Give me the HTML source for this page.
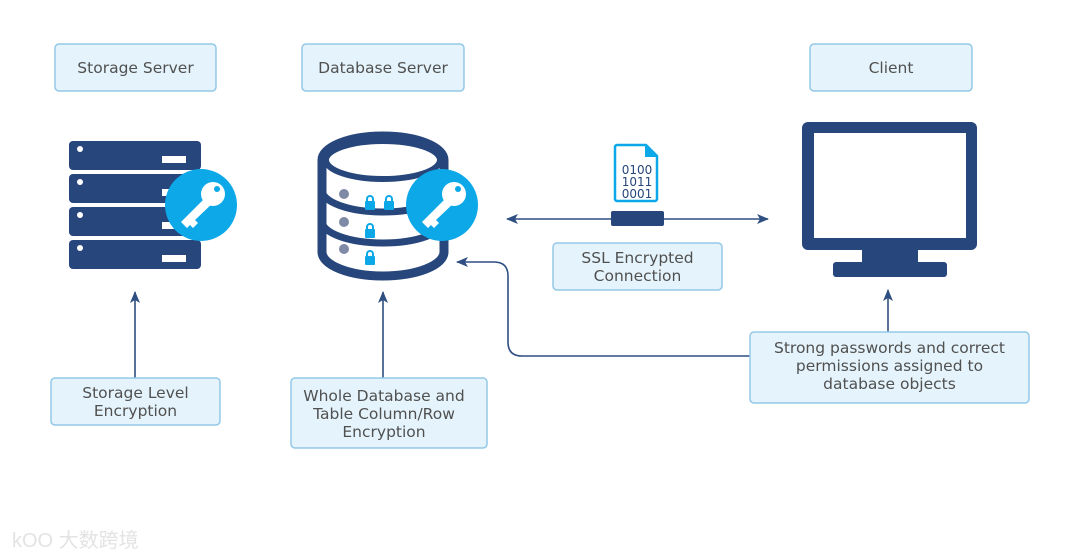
<!DOCTYPE html>
<html><head><meta charset="utf-8"><style>
html,body{margin:0;padding:0;background:#fff;}
svg{display:block;}
text{font-family:"DejaVu Sans","Liberation Sans",sans-serif;font-size:15.5px;fill:#505050;}
.box{fill:#e5f4fc;stroke:#93c8e6;stroke-width:1.5;}
.ln{stroke:#2f4f82;stroke-width:1.6;fill:none;}
.nv{fill:#27467b;}
</style></head><body>
<svg width="1080" height="558" viewBox="0 0 1080 558">
<defs><marker id="a" markerWidth="12" markerHeight="10" refX="11" refY="5" orient="auto" markerUnits="userSpaceOnUse"><path d="M0,0 L12,5 L0,10 L3,5 Z" fill="#2f4f82"/></marker></defs>
<rect class="box" x="55" y="44" width="161" height="47" rx="4"/><text x="135.5" y="73" text-anchor="middle">Storage Server</text>
<rect class="box" x="302" y="44" width="162" height="47" rx="4"/><text x="383" y="73" text-anchor="middle">Database Server</text>
<rect class="box" x="810" y="44" width="162" height="47" rx="4"/><text x="891" y="73" text-anchor="middle">Client</text>
<g class="nv">
<rect x="69" y="141" width="132" height="29" rx="4"/><rect x="69" y="174" width="132" height="29" rx="4"/>
<rect x="69" y="207" width="132" height="29" rx="4"/><rect x="69" y="240" width="132" height="29" rx="4"/>
</g>
<g fill="#fff"><circle cx="80" cy="149" r="3"/><circle cx="80" cy="182" r="3"/><circle cx="80" cy="215" r="3"/><circle cx="80" cy="248" r="3"/>
<rect x="162" y="156" width="24" height="7"/><rect x="162" y="189" width="24" height="7"/><rect x="162" y="222" width="24" height="7"/><rect x="162" y="255" width="24" height="7"/></g>
<circle cx="201" cy="205" r="36" fill="#0da8e8"/>
<g fill="#fff"><circle cx="213" cy="194" r="12"/><path d="M206,197 L181,222 L187,228 L190,225 L193,228 L198,223 L195,220 L215,201Z"/></g>
<circle cx="217" cy="189" r="3" fill="#0da8e8"/>
<path d="M322,160 A61,24 0 0 1 444,160 L444,252 A61,24 0 0 1 322,252 Z" fill="#fff" stroke="#27467b" stroke-width="9"/>
<ellipse cx="383" cy="160" rx="57" ry="19" fill="#fff" stroke="#27467b" stroke-width="6"/>
<path d="M322,190 A61,22 0 0 0 444,190 M322,221 A61,22 0 0 0 444,221" stroke="#27467b" stroke-width="7" fill="none"/>
<g fill="#7f8aa6"><circle cx="344" cy="194" r="5"/><circle cx="344" cy="222" r="5"/><circle cx="344" cy="249" r="5"/></g>
<g fill="#0da8e8"><rect x="365" y="201" width="10" height="9" rx="1"/><rect x="384" y="201" width="10" height="9" rx="1"/><rect x="365" y="229" width="10" height="9" rx="1"/><rect x="365" y="256" width="10" height="9" rx="1"/></g>
<g fill="none" stroke="#0da8e8" stroke-width="2"><path d="M367,202 v-3 a3,3 0 0 1 6,0 v3"/><path d="M386,202 v-3 a3,3 0 0 1 6,0 v3"/><path d="M367,230 v-3 a3,3 0 0 1 6,0 v3"/><path d="M367,257 v-3 a3,3 0 0 1 6,0 v3"/></g>
<circle cx="442" cy="205" r="36" fill="#0da8e8"/>
<g fill="#fff"><circle cx="454" cy="194" r="12"/><path d="M447,197 L422,222 L428,228 L431,225 L434,228 L439,223 L436,220 L456,201Z"/></g>
<circle cx="458" cy="189" r="3" fill="#0da8e8"/>
<path d="M617,145 H646 L657,156 V199 A2,2 0 0 1 655,201 H617 A2,2 0 0 1 615,199 V147 A2,2 0 0 1 617,145Z" fill="#fff" stroke="#0da8e8" stroke-width="2.5"/>
<path d="M645,145 V157 H657 Z" fill="#0da8e8"/>
<text x="637" y="174" text-anchor="middle" style="font-size:12px;fill:#27467b">0100</text><text x="637" y="186" text-anchor="middle" style="font-size:12px;fill:#27467b">1011</text><text x="637" y="198" text-anchor="middle" style="font-size:12px;fill:#27467b">0001</text>
<line class="ln" x1="612" y1="219" x2="507" y2="219" marker-end="url(#a)"/>
<line class="ln" x1="662" y1="219" x2="768" y2="219" marker-end="url(#a)"/>
<rect x="611" y="211" width="53" height="15" rx="2" class="nv"/>
<rect class="box" x="553" y="243" width="169" height="47" rx="4"/>
<text x="637.5" y="263" text-anchor="middle">SSL Encrypted</text><text x="637.5" y="281" text-anchor="middle">Connection</text>
<rect x="802" y="122" width="175" height="128" rx="6" class="nv"/>
<rect x="814" y="133" width="152" height="105" fill="#fff"/>
<rect x="862" y="248" width="56" height="16" class="nv"/>
<rect x="833" y="262" width="114" height="15" rx="3" class="nv"/>
<line class="ln" x1="135" y1="378" x2="135" y2="292" marker-end="url(#a)"/>
<rect class="box" x="51" y="378" width="169" height="47" rx="4"/>
<text x="135.5" y="398" text-anchor="middle">Storage Level</text><text x="135.5" y="416" text-anchor="middle">Encryption</text>
<line class="ln" x1="383" y1="378" x2="383" y2="292" marker-end="url(#a)"/>
<rect class="box" x="291" y="378" width="196" height="70" rx="4"/>
<text x="384" y="401" text-anchor="middle">Whole Database and</text><text x="384" y="419" text-anchor="middle">Table Column/Row</text><text x="384" y="437" text-anchor="middle">Encryption</text>
<line class="ln" x1="888" y1="332" x2="888" y2="290" marker-end="url(#a)"/>
<path class="ln" d="M750,356 H522 Q508,356 508,342 V276 Q508,262 494,262 H457" marker-end="url(#a)"/>
<rect class="box" x="750" y="332" width="279" height="71" rx="4"/>
<text x="889.5" y="353" text-anchor="middle">Strong passwords and correct</text><text x="889.5" y="371" text-anchor="middle">permissions assigned to</text><text x="889.5" y="389" text-anchor="middle">database objects</text>
<text x="12" y="547" style="font-size:20px;fill:#e3e3e3;font-family:'Liberation Sans','Noto Sans CJK SC',sans-serif;">kOO 大数跨境</text>
</svg>
</body></html>
